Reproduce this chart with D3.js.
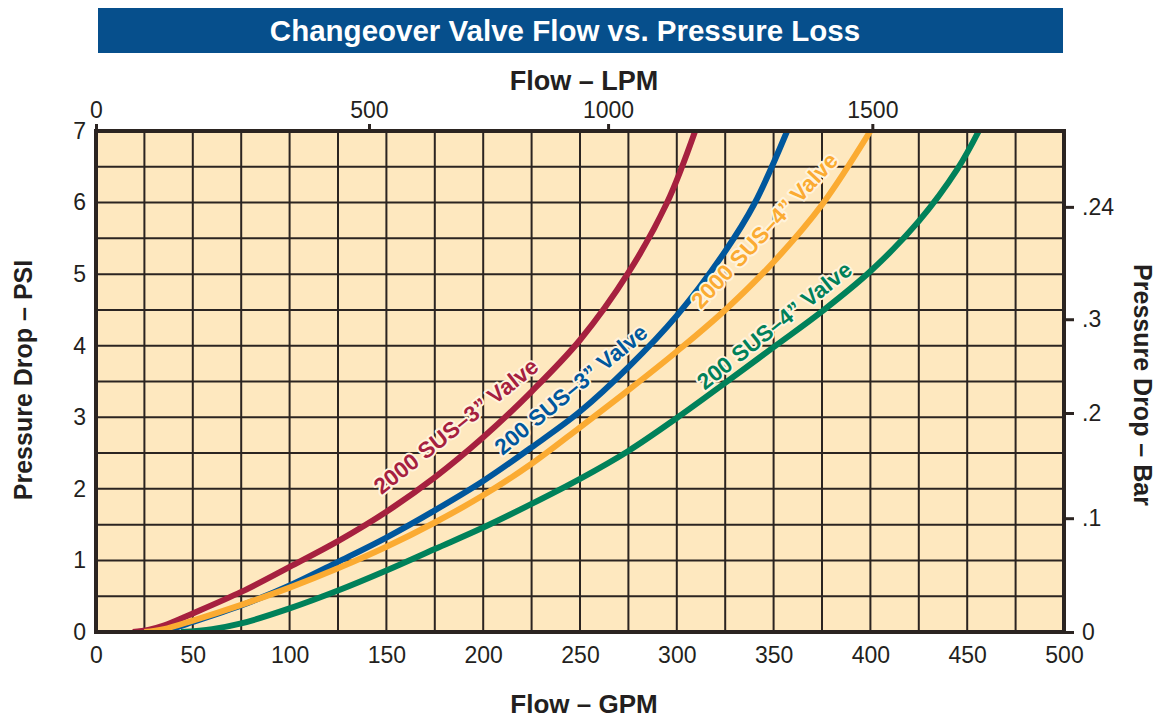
<!DOCTYPE html>
<html>
<head>
<meta charset="utf-8">
<script src="https://cdn.jsdelivr.net/npm/d3@7"></script>
<style>
  body { margin: 0; background: #fff; }
  svg { display: block; font-family: "Liberation Sans", Arial, sans-serif; }
</style>
</head>
<body>
<div id="chart"></div>
<script>
// Flow (GPM) and pressure drop (PSI), one pair of arrays per valve
var red3Gpm = [19, 27, 35, 50, 75, 100, 125, 150, 175, 200, 225, 250, 275, 295, 309.5]
var red3Psi = [0, 0.03, 0.09, 0.26, 0.56, 0.91, 1.27, 1.68, 2.16, 2.72, 3.36, 4.08, 5.02, 6.0, 7.0]

var blue3Gpm = [29, 38, 50, 75, 100, 125, 150, 175, 200, 225, 250, 275, 300, 325, 340, 357]
var blue3Psi = [0, 0.04, 0.14, 0.37, 0.65, 0.98, 1.32, 1.70, 2.11, 2.58, 3.08, 3.7, 4.42, 5.32, 5.98, 7.0]

var orange4Gpm = [25, 35, 50, 75, 100, 125, 150, 175, 200, 225, 250, 275, 300, 325, 350, 375, 400]
var orange4Psi = [0, 0.04, 0.16, 0.38, 0.62, 0.89, 1.19, 1.53, 1.91, 2.35, 2.86, 3.38, 3.92, 4.5, 5.17, 5.97, 7.0]

var green4Gpm = [44, 60, 75, 100, 125, 150, 175, 200, 225, 250, 275, 300, 325, 350, 375, 400, 425, 445, 456]
var green4Psi = [0, 0.04, 0.12, 0.33, 0.58, 0.86, 1.16, 1.46, 1.79, 2.14, 2.53, 2.99, 3.48, 3.98, 4.48, 5.04, 5.74, 6.47, 7.0]

var seriesNames = ['2000 SUS\u20133\u201d Valve', '200 SUS\u20133\u201d Valve', '2000 SUS\u20134\u201d Valve', '200 SUS\u20134\u201d Valve']

// Tick labels
var gpmTicks = d3.range(0, 501, 50)
var psiTicks = d3.range(0, 8, 1)
var lpmTicks = [0, 500, 1000, 1500]
// where each LPM tick sits on the GPM axis in the picture
var lpmTickGpm = [0, 141, 264.5, 401]
var barTicks = [0, 0.1, 0.2, 0.3, 0.4]
var barTickLabels = ['0', '.1', '.2', '.3', '.24']
// where each bar tick sits on the PSI axis in the picture
var barTickPsi = [0, 1.59, 3.06, 4.37, 5.94]

var colors = ['#a6203f', '#00579d', '#fbab32', '#00815a']

var series = [
  { name: seriesNames[0], gpm: red3Gpm, psi: red3Psi },
  { name: seriesNames[1], gpm: blue3Gpm, psi: blue3Psi },
  { name: seriesNames[2], gpm: orange4Gpm, psi: orange4Psi },
  { name: seriesNames[3], gpm: green4Gpm, psi: green4Psi }
]

// label anchors (gpm, psi) and rotation
var labelPos = [
  { gpm: 147.5, psi: 1.91, angle: -38.5 },
  { gpm: 210, psi: 2.46, angle: -39.5 },
  { gpm: 312.5, psi: 4.5, angle: -47 },
  { gpm: 314.5, psi: 3.37, angle: -38.5 }
]

var W = 1166, H = 719
var plot = { left: 96, right: 1064, top: 131, bottom: 632 }

var svg = d3.select('#chart').append('svg')
  .attr('width', W)
  .attr('height', H)

var x = d3.scaleLinear().domain([0, 500]).range([plot.left, plot.right])
var y = d3.scaleLinear().domain([0, 7]).range([plot.bottom, plot.top])
var xLpm = d3.scaleLinear().domain(lpmTicks).range(lpmTickGpm.map(x))
var yBar = d3.scaleLinear().domain(barTicks).range(barTickPsi.map(y))

// Title bar
svg.append('rect')
  .attr('x', 98).attr('y', 8)
  .attr('width', 965).attr('height', 45)
  .attr('fill', '#064f8c')

svg.append('text')
  .attr('x', 565).attr('y', 41)
  .attr('text-anchor', 'middle')
  .attr('fill', '#fff')
  .attr('font-weight', 'bold')
  .attr('font-size', 29.5)
  .text('Changeover Valve Flow vs. Pressure Loss')

// Plot background
svg.append('rect')
  .attr('x', plot.left).attr('y', plot.top)
  .attr('width', plot.right - plot.left).attr('height', plot.bottom - plot.top)
  .attr('fill', '#fee8bf')

// Grid
var grid = svg.append('g').attr('stroke', '#2b2421').attr('stroke-width', 2)
grid.selectAll('.v')
  .data(d3.range(25, 500, 25))
  .enter().append('line')
  .attr('x1', d => x(d)).attr('x2', d => x(d))
  .attr('y1', plot.top).attr('y2', plot.bottom)
grid.selectAll('.h')
  .data(d3.range(0.5, 7, 0.5))
  .enter().append('line')
  .attr('y1', d => y(d)).attr('y2', d => y(d))
  .attr('x1', plot.left).attr('x2', plot.right)

// Curves, clipped to the plot
svg.append('clipPath').attr('id', 'plotclip')
  .append('rect')
  .attr('x', plot.left).attr('y', plot.top)
  .attr('width', plot.right - plot.left).attr('height', plot.bottom - plot.top)

var line = d3.line()
  .x(d => x(d[0]))
  .y(d => y(d[1]))
  .curve(d3.curveCatmullRom.alpha(0.5))

svg.append('g')
  .attr('clip-path', 'url(#plotclip)')
  .selectAll('path')
  .data(series)
  .enter().append('path')
  .attr('d', d => line(d.gpm.map((g, i) => [g, d.psi[i]])))
  .attr('fill', 'none')
  .attr('stroke', (d, i) => colors[i])
  .attr('stroke-width', 6)

// Curve labels
svg.append('g')
  .selectAll('text')
  .data(series)
  .enter().append('text')
  .attr('transform', (d, i) => `translate(${x(labelPos[i].gpm)},${y(labelPos[i].psi)}) rotate(${labelPos[i].angle})`)
  .attr('fill', (d, i) => colors[i])
  .attr('font-weight', 'bold')
  .attr('font-size', 22.5)
  .attr('stroke', '#fff3dc')
  .attr('stroke-width', 4)
  .attr('stroke-linejoin', 'round')
  .attr('paint-order', 'stroke')
  .text(d => d.name)

// Frame
svg.append('rect')
  .attr('x', plot.left).attr('y', plot.top)
  .attr('width', plot.right - plot.left).attr('height', plot.bottom - plot.top)
  .attr('fill', 'none')
  .attr('stroke', '#2b2421')
  .attr('stroke-width', 4)

// Axes
function styleAxis(g) {
  g.select('.domain').remove()
  g.selectAll('text')
    .attr('font-size', 23)
    .attr('fill', '#231f20')
    .attr('font-family', '"Liberation Sans", Arial, sans-serif')
  g.selectAll('line').attr('stroke', '#2b2421').attr('stroke-width', 3)
}

svg.append('g')
  .attr('transform', `translate(0,${plot.bottom})`)
  .call(d3.axisBottom(x).tickValues(gpmTicks).tickSize(0).tickPadding(15).tickFormat(d3.format('d')))
  .call(styleAxis)

svg.append('g')
  .attr('transform', `translate(${plot.left},0)`)
  .call(d3.axisLeft(y).tickValues(psiTicks).tickSize(0).tickPadding(10).tickFormat(d3.format('d')))
  .call(styleAxis)

svg.append('g')
  .attr('transform', `translate(0,${plot.top})`)
  .call(d3.axisTop(xLpm).tickValues(lpmTicks).tickSize(7).tickPadding(6).tickFormat(d3.format('d')))
  .call(styleAxis)

svg.append('g')
  .attr('transform', `translate(${plot.right},0)`)
  .call(d3.axisRight(yBar).tickValues(barTicks).tickSize(10).tickPadding(8)
    .tickFormat((d, i) => barTickLabels[i]))
  .call(styleAxis)

// Axis titles
function axisTitle(text, tx, ty, rot, size) {
  svg.append('text')
    .attr('transform', `translate(${tx},${ty}) rotate(${rot})`)
    .attr('text-anchor', 'middle')
    .attr('font-weight', 'bold')
    .attr('font-size', size)
    .attr('fill', '#231f20')
    .text(text)
}
axisTitle('Flow \u2013 LPM', 584, 90, 0, 27)
axisTitle('Flow \u2013 GPM', 584, 713, 0, 26)
axisTitle('Pressure Drop \u2013 PSI', 32, 380, -90, 25)
axisTitle('Pressure Drop \u2013 Bar', 1134, 385, 90, 25)
</script>
</body>
</html>
